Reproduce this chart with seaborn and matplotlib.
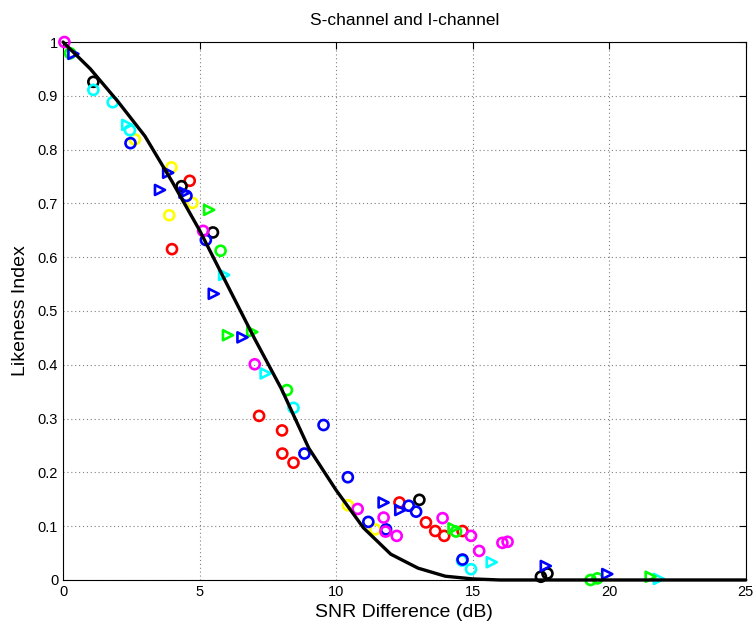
import matplotlib
matplotlib.use("Agg")
import matplotlib.pyplot as plt
import seaborn as sns
import pandas as pd

# ---- data ----
curve_x = [0, 1, 2, 3, 4, 5, 6, 7, 8, 9, 10, 11, 12, 13, 14, 15, 16, 17, 18, 19, 20, 21, 22, 23, 24, 25]
curve_y = [1.0, 0.95, 0.89, 0.825, 0.74, 0.65, 0.55, 0.45, 0.355, 0.245, 0.167, 0.097, 0.048, 0.022, 0.007,
           0.002, 0.0, 0.0, 0.0, 0.0, 0.0, 0.0, 0.0, 0.0, 0.0, 0.0]

magenta_o_x = [0.05, 5.13, 7.02, 10.79, 11.74, 11.81, 12.22, 13.9, 14.94, 15.24, 16.09, 16.28]
magenta_o_y = [1.0, 0.649, 0.401, 0.132, 0.116, 0.090, 0.082, 0.115, 0.082, 0.054, 0.069, 0.071]

green_o_x = [0.26, 5.77, 8.2, 14.39, 19.32, 19.57]
green_o_y = [0.979, 0.612, 0.353, 0.090, 0.0, 0.003]
green_t_x = [5.35, 6.04, 6.93, 14.3, 21.52]
green_t_y = [0.688, 0.455, 0.461, 0.096, 0.006]

blue_o_x = [2.47, 4.52, 5.23, 8.84, 9.54, 10.43, 11.18, 11.83, 12.66, 12.93, 14.63]
blue_o_y = [0.812, 0.714, 0.632, 0.235, 0.288, 0.191, 0.108, 0.094, 0.138, 0.127, 0.038]
blue_t_x = [0.38, 3.55, 3.85, 4.45, 5.52, 6.57, 11.74, 12.35, 17.68, 19.93]
blue_t_y = [0.978, 0.725, 0.757, 0.72, 0.532, 0.451, 0.144, 0.130, 0.026, 0.011]

cyan_o_x = [1.11, 1.82, 2.45, 8.44, 14.61, 14.94]
cyan_o_y = [0.911, 0.888, 0.836, 0.320, 0.036, 0.020]
cyan_t_x = [2.35, 5.9, 7.42, 15.7, 21.82]
cyan_t_y = [0.846, 0.567, 0.384, 0.033, 0.002]

black_o_x = [1.11, 4.34, 5.49, 13.05, 17.5, 17.74]
black_o_y = [0.926, 0.732, 0.646, 0.149, 0.006, 0.012]

yellow_o_x = [2.63, 3.97, 4.74, 3.89, 10.43, 11.43]
yellow_o_y = [0.819, 0.767, 0.701, 0.678, 0.139, 0.094]

red_o_x = [4.64, 3.99, 7.18, 8.02, 8.03, 8.44, 12.32, 13.29, 13.63, 13.96, 14.63]
red_o_y = [0.742, 0.615, 0.305, 0.278, 0.235, 0.218, 0.144, 0.107, 0.091, 0.082, 0.091]

title = "S-channel and I-channel"
xlabel = "SNR Difference (dB)"
ylabel = "Likeness Index"
xticks = [0, 5, 10, 15, 20, 25]
yticks = [0, 0.1, 0.2, 0.3, 0.4, 0.5, 0.6, 0.7, 0.8, 0.9, 1]
ytick_labels = ["0", "0.1", "0.2", "0.3", "0.4", "0.5", "0.6", "0.7", "0.8", "0.9", "1"]

# ---- plot ----
sns.set_theme(style="white")
plt.rcParams['font.family'] = ['Liberation Sans', 'DejaVu Sans']
plt.rcParams['text.color'] = 'black'
plt.rcParams['axes.labelcolor'] = 'black'

fig = plt.figure(figsize=(7.54, 6.3), dpi=100)
ax = fig.add_axes([0.0836, 0.0794, 0.9054, 0.8539])

series = [
    (red_o_x, red_o_y, "#ff0000", "o"),
    (yellow_o_x, yellow_o_y, "#ffff00", "o"),
    (black_o_x, black_o_y, "#000000", "o"),
    (cyan_o_x, cyan_o_y, "#00ffff", "o"),
    (cyan_t_x, cyan_t_y, "#00ffff", ">"),
    (green_o_x, green_o_y, "#00ff00", "o"),
    (green_t_x, green_t_y, "#00ff00", ">"),
    (blue_o_x, blue_o_y, "#0000ff", "o"),
    (blue_t_x, blue_t_y, "#0000ff", ">"),
    (magenta_o_x, magenta_o_y, "#ff00ff", "o"),
]
for xs, ys, c, m in series:
    df = pd.DataFrame({"x": xs, "y": ys})
    sns.scatterplot(data=df, x="x", y="y", ax=ax, marker=m, s=52,
                    facecolor="none", edgecolor=c, linewidth=1.9,
                    clip_on=False, zorder=3, legend=False)

cdf = pd.DataFrame({"x": curve_x, "y": curve_y})
sns.lineplot(data=cdf, x="x", y="y", ax=ax, color="black", linewidth=2.4,
             zorder=4, clip_on=False, legend=False)

ax.set_xlim(0, 25)
ax.set_ylim(0, 1)
ax.set_xticks(xticks)
ax.set_xticklabels([str(t) for t in xticks])
ax.set_yticks(yticks)
ax.set_yticklabels(ytick_labels)
ax.grid(True, linestyle=(0, (1, 2.5)), color="#808080", linewidth=0.8)
ax.tick_params(direction="in", top=True, right=True, length=5, labelsize=10.5,
               colors="black", width=0.8)
for sp in ax.spines.values():
    sp.set_visible(True)
    sp.set_color("black")
    sp.set_linewidth(0.8)
ax.set_facecolor("white")
ax.set_title(title, fontsize=12.5, pad=12, color="black")
ax.set_xlabel(xlabel, fontsize=14, labelpad=4, color="black")
ax.set_ylabel(ylabel, fontsize=14, labelpad=6, color="black")

fig.savefig("out.png", dpi=100, facecolor="white")
